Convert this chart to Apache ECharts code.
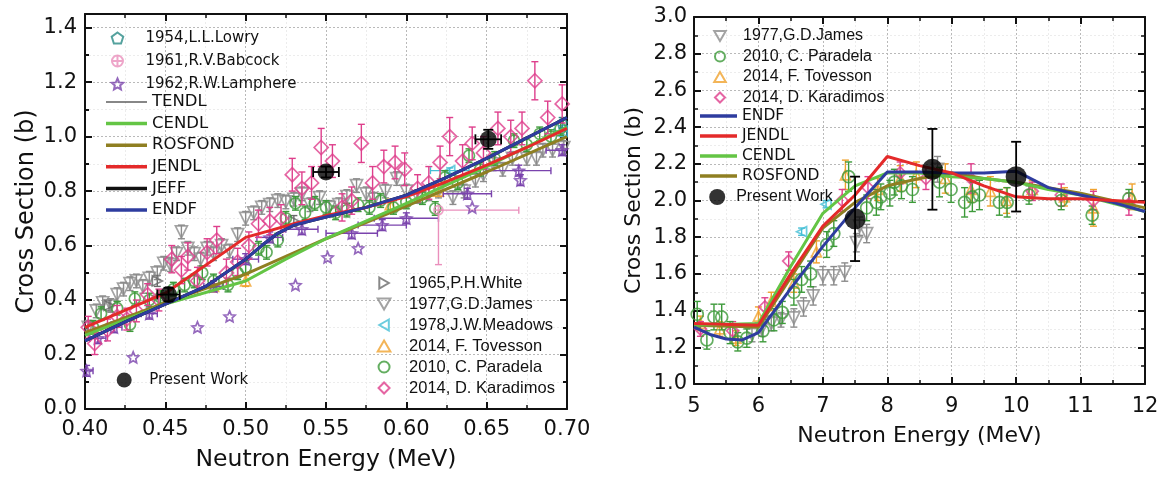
<!DOCTYPE html>
<html><head><meta charset="utf-8">
<script src="https://cdn.jsdelivr.net/npm/echarts@6/dist/echarts.min.js"></script>
<style>html,body{margin:0;padding:0;background:#fff}#c{width:1163px;height:477px}</style>
</head><body><div id="c"></div>
<script>
// ---------------- LEFT PANEL DATA (0.40-0.70 MeV) ----------------
const leftXTicks = [0.40, 0.70, 0.05];
const leftYTicks = [0, 1.45, 0.2];
// evaluations [E, sigma]
const leftTENDL = [[0.40,0.28],[0.45,0.39],[0.50,0.495],[0.55,0.625],[0.60,0.745],[0.65,0.87],[0.70,1.00]];
const leftCENDL = [[0.40,0.27],[0.45,0.385],[0.50,0.47],[0.525,0.55],[0.55,0.625],[0.60,0.755],[0.65,0.89],[0.70,1.035]];
const leftROSFOND = [[0.40,0.28],[0.45,0.39],[0.50,0.495],[0.55,0.625],[0.60,0.745],[0.65,0.87],[0.70,1.00]];
const leftJENDL = [[0.40,0.30],[0.45,0.425],[0.50,0.63],[0.515,0.655],[0.53,0.68],[0.55,0.71],[0.575,0.74],[0.60,0.78],[0.625,0.835],[0.65,0.895],[0.675,0.96],[0.70,1.03]];
const leftJEFF = [[0.40,0.25],[0.425,0.32],[0.45,0.385],[0.475,0.45],[0.50,0.55],[0.51,0.60],[0.52,0.645],[0.53,0.675],[0.55,0.705],[0.575,0.74],[0.60,0.785],[0.625,0.85],[0.65,0.92],[0.675,0.995],[0.70,1.07]];
const leftENDF = [[0.40,0.25],[0.425,0.32],[0.45,0.385],[0.475,0.45],[0.50,0.55],[0.51,0.60],[0.52,0.645],[0.53,0.675],[0.55,0.705],[0.575,0.74],[0.60,0.785],[0.625,0.85],[0.65,0.92],[0.675,0.995],[0.70,1.07]];
// experiments [E, sigma, dSigma]
const leftLowry = [[0.697,1.05,0.02]];
const leftBabcock = [[0.62,0.73,0.20,0.0,0.0,0.05]]; // [E, s, sLow, sHigh, eLow, eHigh]
const leftLamphere = [[0.401,0.14,0.02,0.004],[0.43,0.19,0,0],[0.47,0.30,0,0],[0.49,0.34,0,0],[0.531,0.455,0,0],[0.551,0.557,0,0],[0.57,0.59,0,0],
  [0.408,0.26,0.02,0.005],[0.418,0.30,0.02,0.005],[0.44,0.35,0.02,0.005],[0.48,0.45,0.02,0.006],[0.50,0.55,0.02,0.008],[0.515,0.63,0.02,0.008],
  [0.535,0.66,0.02,0.01],[0.566,0.645,0.02,0.016],[0.585,0.675,0.02,0.015],[0.60,0.70,0.02,0.02],[0.641,0.74,0,0],[0.638,0.79,0.02,0.015],
  [0.671,0.84,0.02,0],[0.67,0.875,0.02,0.02],[0.697,0.95,0.02,0.01]];
const leftWhite = [[0.415,0.38,0.02],[0.445,0.47,0.02],[0.53,0.69,0.02]];
const leftJames = [[0.402,0.30],[0.407,0.36],[0.411,0.39],[0.416,0.38],[0.42,0.42],[0.424,0.44],[0.428,0.46],[0.432,0.47],[0.436,0.45],[0.44,0.48],
  [0.445,0.50],[0.449,0.535],[0.453,0.53],[0.457,0.57],[0.46,0.65],[0.464,0.59],[0.468,0.57],[0.472,0.55],[0.476,0.59],[0.48,0.57],[0.485,0.60],
  [0.49,0.58],[0.495,0.64],[0.50,0.70],[0.505,0.72],[0.51,0.74],[0.515,0.75],[0.52,0.765],[0.525,0.76],[0.53,0.77],[0.535,0.79],[0.54,0.75],
  [0.546,0.776],[0.552,0.74],[0.558,0.75],[0.563,0.78],[0.569,0.82],[0.575,0.79],[0.58,0.77],[0.587,0.80],[0.594,0.846],[0.60,0.80],[0.607,0.78],
  [0.614,0.79],[0.62,0.80],[0.629,0.776],[0.636,0.80],[0.643,0.84],[0.648,0.86],[0.654,0.90],[0.66,0.88],[0.666,0.92],[0.675,0.92],[0.681,0.92],
  [0.685,0.95],[0.691,0.95],[0.698,0.96]];
const leftMeadows = [[0.627,0.875,0.01,0.012],[0.697,1.02,0.02,0.005]];
const leftTovesson = [[0.48,0.45,0.02],[0.50,0.47,0.02],[0.59,0.75,0.02],[0.62,0.80,0.02]];
const leftParadela = [[0.405,0.30],[0.41,0.35],[0.42,0.37],[0.428,0.31],[0.431,0.405],[0.44,0.40],[0.447,0.41],[0.455,0.44],[0.462,0.455],[0.468,0.47],
  [0.473,0.50],[0.48,0.47],[0.489,0.455],[0.495,0.50],[0.50,0.52],[0.508,0.59],[0.513,0.575],[0.52,0.62],[0.525,0.70],[0.531,0.755],[0.537,0.72],
  [0.543,0.755],[0.55,0.74],[0.556,0.72],[0.563,0.73],[0.57,0.75],[0.577,0.74],[0.584,0.765],[0.592,0.74],[0.60,0.76],[0.61,0.776],[0.618,0.736],
  [0.624,0.85],[0.632,0.83],[0.639,0.93],[0.646,0.88],[0.655,0.92],[0.667,0.985],[0.675,0.97],[0.683,1.01],[0.69,1.00],[0.696,1.03]];
const leftKaradimos = [[0.402,0.30,0.04],[0.406,0.24,0.04],[0.414,0.29,0.04],[0.420,0.34,0.04],[0.426,0.33,0.04],[0.432,0.36,0.04],[0.439,0.42,0.04],
  [0.446,0.40,0.04],[0.454,0.55,0.05],[0.460,0.51,0.05],[0.464,0.56,0.05],[0.470,0.47,0.05],[0.476,0.575,0.05],[0.482,0.62,0.05],[0.488,0.50,0.05],
  [0.495,0.54,0.05],[0.502,0.60,0.05],[0.508,0.68,0.05],[0.515,0.69,0.05],[0.522,0.70,0.05],[0.529,0.86,0.06],[0.535,0.81,0.06],[0.541,0.83,0.06],
  [0.547,0.96,0.07],[0.554,0.91,0.06],[0.560,0.74,0.05],[0.566,0.765,0.05],[0.572,0.975,0.07],[0.579,0.83,0.06],[0.586,0.89,0.06],[0.593,0.905,0.06],
  [0.599,0.88,0.06],[0.607,0.81,0.05],[0.614,0.83,0.06],[0.621,0.905,0.06],[0.627,1.00,0.07],[0.635,0.91,0.06],[0.641,0.975,0.06],[0.648,0.94,0.06],
  [0.657,1.03,0.06],[0.665,1.00,0.06],[0.672,1.03,0.06],[0.680,1.205,0.07],[0.688,1.07,0.06],[0.697,1.12,0.07]];
const leftPresent = [[0.452,0.42,0.025,0.007],[0.550,0.87,0.02,0.008],[0.651,0.99,0.035,0.008]]; // [E, s, dS, dE]

// ---------------- RIGHT PANEL DATA (5-12 MeV) ----------------
const rightXTicks = [5, 12, 1];
const rightYTicks = [1, 3, 0.2];
const rightENDF = [[5,1.31],[5.25,1.27],[5.5,1.245],[5.75,1.24],[6,1.28],[6.5,1.52],[7,1.75],[7.5,1.96],[8,2.155],[8.5,2.155],[9,2.15],[9.5,2.15],[10,2.16],[10.5,2.07],[11,2.03],[11.5,1.99],[12,1.94]];
const rightJENDL = [[5,1.33],[6,1.32],[6.5,1.60],[7,1.86],[7.5,2.03],[8,2.24],[8.5,2.19],[9,2.15],[9.5,2.08],[10,2.02],[10.5,2.01],[11,2.01],[11.5,2.00],[12,1.99]];
const rightCENDL = [[5,1.32],[6,1.33],[6.5,1.64],[7,1.93],[7.5,2.08],[8,2.15],[8.5,2.15],[9,2.13],[9.5,2.12],[10,2.10],[10.5,2.06],[11,2.03],[12,1.94]];
const rightROSFOND = [[5,1.32],[6,1.31],[6.5,1.58],[7,1.85],[7.5,1.99],[8,2.08],[8.5,2.12],[9,2.15],[9.5,2.12],[10,2.10],[10.5,2.07],[11,2.04],[12,1.96]];
const rightJames = [[5.9,1.27,0.04],[6.05,1.30,0.04],[6.2,1.33,0.04],[6.35,1.35,0.04],[6.55,1.36,0.05],[6.7,1.42,0.05],[6.85,1.48,0.05],[7.0,1.59,0.05],
  [7.17,1.59,0.05],[7.34,1.61,0.05],[7.52,1.77,0.05],[7.57,1.86,0.05],[7.68,1.82,0.05],[8.78,2.17,0.07]];
const rightParadela = [[5.05,1.38,0.07],[5.2,1.24,0.05],[5.31,1.365,0.07],[5.43,1.365,0.07],[5.56,1.28,0.06],[5.68,1.23,0.05],[5.82,1.25,0.05],
  [6.07,1.29,0.06],[6.24,1.35,0.06],[6.37,1.39,0.06],[6.55,1.50,0.07],[6.67,1.57,0.07],[6.81,1.60,0.07],[7.06,1.76,0.07],[7.17,1.82,0.07],
  [7.40,2.13,0.08],[7.68,1.96,0.07],[7.83,1.99,0.07],[7.90,2.02,0.07],[8.04,2.04,0.07],[8.11,2.10,0.07],[8.22,2.08,0.07],[8.39,2.06,0.07],
  [8.81,2.10,0.08],[8.99,2.06,0.07],[9.2,1.99,0.08],[9.32,2.02,0.08],[9.43,2.03,0.08],[9.74,1.99,0.07],[9.86,1.99,0.08],[10.2,2.03,0.05],
  [10.7,2.00,0.05],[11.18,1.92,0.05],[11.75,2.01,0.05]];
const rightTovesson = [[5.1,1.33,0.04],[5.4,1.30,0.04],[5.65,1.25,0.04],[6.0,1.37,0.05],[6.2,1.45,0.05],[6.55,1.55,0.05],[6.9,1.72,0.06],[7.35,2.14,0.08],
  [7.85,2.06,0.06],[8.2,2.12,0.07],[8.45,2.14,0.07],[8.9,2.12,0.08],[9.3,2.06,0.07],[9.6,2.05,0.08],[9.85,2.0,0.07],[10.25,2.06,0.05],
  [10.75,2.02,0.05],[11.2,1.96,0.1],[11.8,2.02,0.07]];
const rightKaradimos = [[5.1,1.30,0.04],[5.6,1.29,0.05],[6.1,1.42,0.05],[6.47,1.67,0.05],[7.3,2.0,0.06],[7.7,2.07,0.06],[8.2,2.15,0.06],[8.6,2.12,0.06],
  [9.3,2.12,0.08],[10.25,2.05,0.05],[10.7,2.03,0.06],[11.2,2.00,0.05],[11.75,1.98,0.06]];
const rightMeadows = [[6.67,1.83,0.02],[7.05,1.98,0.02]];
const rightPresent = [[7.5,1.90,0.23,0],[8.7,2.17,0.22,0],[10.0,2.13,0.19,0]];

// ---------------- legend names ----------------
const legLeftTop = ['1954,L.L.Lowry','1961,R.V.Babcock','1962,R.W.Lamphere'];
const legLeftLines = ['TENDL','CENDL','ROSFOND','JENDL','JEFF','ENDF'];
const legLeftBottom = ['1965,P.H.White','1977,G.D.James','1978,J.W.Meadows','2014, F. Tovesson','2010, C. Paradela','2014, D. Karadimos'];
const legRightTop = ['1977,G.D.James','2010, C. Paradela','2014, F. Tovesson','2014, D. Karadimos'];
const legRightLines = ['ENDF','JENDL','CENDL','ROSFOND'];
const PW = 'Present Work';

// ---------------- styles ----------------
const C = {
  white:'#6a6a6a', james:'#8c8c8c', meadows:'#46bfd6', tovesson:'#f0a22e', paradela:'#3d9a3a', karadimos:'#de3f8c',
  lamphere:'#7a43ad', babcock:'#ea8fbc', lowry:'#2b8b86',
  ENDF:'#2e3c9f', JENDL:'#e42a2a', CENDL:'#64c545', ROSFOND:'#8f7f22', JEFF:'#111', TENDL:'#111'
};
const SYM = {
  star:'path://M10,0 L12.9,6.9 L20,7.6 L14.7,12.3 L16.2,19.5 L10,15.8 L3.8,19.5 L5.3,12.3 L0,7.6 L7.1,6.9 Z',
  pent:'path://M10,0 L19.5,6.9 L15.9,18.1 L4.1,18.1 L0.5,6.9 Z',
  cplus:'path://M0,10 A10,10 0 1,1 20,10 A10,10 0 1,1 0,10 Z M10,0 L10,20 M0,10 L20,10'
};
// legend icons (keep aspect)
const ICON = {
  '1977,G.D.James':'path://M0,0 L20,0 L10,17.3 Z',
  '1965,P.H.White':'path://M0,0 L17.3,10 L0,20 Z',
  '1978,J.W.Meadows':'path://M17.3,0 L0,10 L17.3,20 Z',
  '2014, F. Tovesson':'path://M10,0 L20,17.3 L0,17.3 Z',
  '2014, D. Karadimos':'path://M10,0 L20,10 L10,20 L0,10 Z',
  'TENDL':'path://M0,0 L40,0 L40,1 L0,1 Z'
};

function norm3(d){ return d.map(r => [r[0], r[1], r[2]||0, r[2]||0, 0, 0]); }
function norm4(d){ return d.map(r => [r[0], r[1], r[2]||0, r[2]||0, r[3]||0, r[3]||0]); }

function eb(rows, color, xi, yi, lw, cap, z){
  return {
    type:'custom', name:'_eb', xAxisIndex:xi, yAxisIndex:yi, clip:true, silent:true, z:z||2,
    dimensions:['x','y','a','b','c','d'], encode:{x:0,y:1},
    data: rows,
    renderItem: function(params, api){
      const x=api.value(0), y=api.value(1), ylo=api.value(2), yhi=api.value(3), xlo=api.value(4), xhi=api.value(5);
      const c=api.coord([x,y]); const ch=[]; const st={stroke:color, lineWidth:lw};
      if (ylo>0 || yhi>0){
        const p1=api.coord([x,y-ylo]), p2=api.coord([x,y+yhi]);
        ch.push({type:'line', shape:{x1:c[0],y1:p1[1],x2:c[0],y2:p2[1]}, style:st});
        if (ylo>0) ch.push({type:'line', shape:{x1:c[0]-cap,y1:p1[1],x2:c[0]+cap,y2:p1[1]}, style:st});
        if (yhi>0) ch.push({type:'line', shape:{x1:c[0]-cap,y1:p2[1],x2:c[0]+cap,y2:p2[1]}, style:st});
      }
      if (xlo>0 || xhi>0){
        const q1=api.coord([x-xlo,y]), q2=api.coord([x+xhi,y]);
        ch.push({type:'line', shape:{x1:q1[0],y1:c[1],x2:q2[0],y2:c[1]}, style:st});
        if (xlo>0) ch.push({type:'line', shape:{x1:q1[0],y1:c[1]-cap,x2:q1[0],y2:c[1]+cap}, style:st});
        if (xhi>0) ch.push({type:'line', shape:{x1:q2[0],y1:c[1]-cap,x2:q2[0],y2:c[1]+cap}, style:st});
      }
      return {type:'group', children:ch};
    }
  };
}
function sc(name, rows, sym, size, color, xi, yi, rot, z, filled){
  return {
    type:'scatter', name:name, xAxisIndex:xi, yAxisIndex:yi, data: rows.map(r=>[r[0],r[1]]),
    symbol:sym, symbolSize:size, symbolRotate:rot||0, z:z||3, clip:true,
    itemStyle: filled ? {color:color} : {color:'rgba(255,255,255,0)', borderColor:color, borderWidth:1.7},
    emphasis:{disabled:true}
  };
}
function ln(name, data, color, w, xi, yi, z){
  return {type:'line', name:name, data:data, xAxisIndex:xi, yAxisIndex:yi, symbol:'none', showSymbol:false,
    lineStyle:{color:color, width:w}, itemStyle:{color:color}, z:z, clip:true, emphasis:{disabled:true}};
}

// ---------------- axes ----------------
const AX_FONT = 'DejaVu Sans';
function axisBase(o){
  const a = {
    type:'value', gridIndex:o.grid, position:o.pos, min:o.t[0], max:o.t[1], interval:o.t[2],
    axisLine:{show:o.line!==false, onZero:false, lineStyle:{color:'#111', width:2}},
    axisTick:{show:true, inside:true, length:o.tickLen||7, lineStyle:{color:'#111', width:2}},
    minorTick:{show:!!o.minor, splitNumber:2, length:4, lineStyle:{color:'#111', width:1.5}},
    splitLine:{show:!!o.split, lineStyle:{color:'#b9b9b9', type:[2,2], width:1}},
    minorSplitLine:{show:!!o.minorSplit, lineStyle:{color:'#ececec', type:[2,2], width:1}},
    axisLabel:{show:!!o.label, color:'#111', fontFamily:AX_FONT, fontSize:21, margin:o.margin||8,
      formatter:o.fmt, showMaxLabel:o.showMax!==false},
    silent:true
  };
  if (o.name){
    a.name=o.name; a.nameLocation='middle'; a.nameGap=o.nameGap;
    a.nameTextStyle={color:'#111', fontFamily:AX_FONT, fontSize:o.nameSize};
  }
  return a;
}

const xAxes = [
  axisBase({grid:0,pos:'bottom',t:leftXTicks,minor:true,split:true,minorSplit:true,label:true,margin:10,fmt:v=>v.toFixed(2),
    name:'Neutron Energy (MeV)',nameGap:39,nameSize:23.5}),
  axisBase({grid:0,pos:'top',t:leftXTicks,minor:true}),
  axisBase({grid:1,pos:'bottom',t:rightXTicks,minor:true,split:true,minorSplit:true,label:true,margin:12,fmt:v=>String(Math.round(v)),
    name:'Neutron Energy (MeV)',nameGap:41,nameSize:22}),
  axisBase({grid:1,pos:'top',t:rightXTicks,minor:true})
];
const yAxes = [
  axisBase({grid:0,pos:'left',t:leftYTicks,split:true,label:true,margin:8,fmt:v=>v.toFixed(1),showMax:false,
    name:'Cross Section (b)',nameGap:46,nameSize:24}),
  axisBase({grid:0,pos:'left',t:[0,1.45,0.1],line:false,tickLen:4}),
  axisBase({grid:0,pos:'right',t:leftYTicks}),
  axisBase({grid:0,pos:'right',t:[0,1.45,0.1],line:false,tickLen:4}),
  axisBase({grid:1,pos:'left',t:rightYTicks,minor:true,split:true,minorSplit:true,label:true,margin:7,fmt:v=>v.toFixed(1),
    name:'Cross Section (b)',nameGap:49,nameSize:22}),
  axisBase({grid:1,pos:'right',t:rightYTicks,minor:true})
];
yAxes[1].splitLine = {show:true, lineStyle:{color:'#ececec', type:[2,2], width:1}};
yAxes[1].z = -1;

// ---------------- series ----------------
const L = [0,0], R = [2,4];
const series = [];
function addExp(panel, name, rows4, sym, size, color, rot, z){
  series.push(eb(rows4, color, panel[0], panel[1], 1.4, 3.5, z));
  series.push(sc(name, rows4, sym, size, color, panel[0], panel[1], rot, z));
}
// left experiments
addExp(L, '1977,G.D.James', norm3(leftJames.map(r=>[r[0],r[1],0.025])), 'triangle', 12, C.james, 180, 2);
addExp(L, '1965,P.H.White', norm3(leftWhite), 'triangle', 10, C.white, -90, 2);
addExp(L, '1978,J.W.Meadows', norm4(leftMeadows), 'triangle', 10, C.meadows, 90, 2);
addExp(L, '2014, F. Tovesson', norm3(leftTovesson), 'triangle', 10, C.tovesson, 0, 2);
addExp(L, '2010, C. Paradela', norm3(leftParadela.map(r=>[r[0],r[1],0.025])), 'circle', 11, C.paradela, 0, 3);
addExp(L, '1962,R.W.Lamphere', norm4(leftLamphere), SYM.star, 11, C.lamphere, 0, 3);
addExp(L, '1961,R.V.Babcock', leftBabcock, SYM.cplus, 9, C.babcock, 0, 3);
addExp(L, '1954,L.L.Lowry', norm3(leftLowry), SYM.pent, 10, C.lowry, 0, 3);
addExp(L, '2014, D. Karadimos', norm3(leftKaradimos), 'diamond', 14, C.karadimos, 0, 4);
// left evaluations
series.push(ln('TENDL', leftTENDL, C.TENDL, 1, 0, 0, 5));
series.push(ln('ROSFOND', leftROSFOND, C.ROSFOND, 3, 0, 0, 5));
series.push(ln('CENDL', leftCENDL, C.CENDL, 3, 0, 0, 5));
series.push(ln('JEFF', leftJEFF, C.JEFF, 3, 0, 0, 5));
series.push(ln('JENDL', leftJENDL, C.JENDL, 3, 0, 0, 5));
series.push(ln('ENDF', leftENDF, C.ENDF, 3, 0, 0, 5));
// left present work
series.push(eb(norm4(leftPresent), '#000', 0, 0, 1.8, 5, 6));
series.push(sc(PW, leftPresent, 'circle', 17, '#000', 0, 0, 0, 7, true));

// right experiments
addExp(R, '1977,G.D.James', norm3(rightJames), 'triangle', 12, C.james, 180, 2);
addExp(R, '1978,J.W.Meadows', norm3(rightMeadows), 'triangle', 10, C.meadows, 90, 2);
addExp(R, '2014, F. Tovesson', norm3(rightTovesson), 'triangle', 10, C.tovesson, 0, 2);
addExp(R, '2014, D. Karadimos', norm3(rightKaradimos), 'diamond', 12, C.karadimos, 0, 3);
addExp(R, '2010, C. Paradela', norm3(rightParadela), 'circle', 12, C.paradela, 0, 3);
// right evaluations
series.push(ln('ROSFOND', rightROSFOND, C.ROSFOND, 3, 2, 4, 5));
series.push(ln('CENDL', rightCENDL, C.CENDL, 3, 2, 4, 5));
series.push(ln('ENDF', rightENDF, C.ENDF, 3, 2, 4, 5));
series.push(ln('JENDL', rightJENDL, C.JENDL, 3, 2, 4, 5));
// right present work
series.push(eb(norm4(rightPresent), '#000', 2, 4, 1.8, 5, 6));
series.push(sc(PW, rightPresent, 'circle', 21, '#000', 2, 4, 0, 7, true));

// ---------------- legends ----------------
function legData(names, defIcon){
  return names.map(n => {
    const ic = ICON[n] || defIcon;
    return ic ? {name:n, icon:ic} : {name:n};
  });
}
// o.cx = icon centre x (legend box starts at the icon's left edge for narrow icons)
function leg(o){
  const left = o.cx != null ? (o.cx - o.h/2 - 0.8) : o.left;
  return {
    show:true, orient:'vertical', left:left, top:o.top, padding:0, itemGap:o.gap, itemWidth:o.w, itemHeight:o.h,
    selectedMode:false, data:legData(o.data, o.defIcon), symbolRotate:0, symbolKeepAspect:true,
    textStyle:{color:'#111', fontFamily:o.font, fontSize:o.size, lineHeight:20},
    inactiveColor:'#111'
  };
}
const legends = [
  leg({cx:117, top:28, gap:3, w:46, h:11, data:legLeftTop, font:'DejaVu Sans', size:15}),
  leg({left:106, top:92, gap:1.6, w:41, h:3.5, data:legLeftLines, defIcon:'rect', font:'DejaVu Sans', size:16.5}),
  leg({cx:383, top:273, gap:1, w:40, h:11, data:legLeftBottom, font:'Liberation Sans', size:16.5}),
  leg({cx:125, top:370, gap:0, w:40, h:15, data:[PW], font:'DejaVu Sans', size:15}),
  leg({cx:719, top:26, gap:0.5, w:36, h:10, data:legRightTop, font:'Liberation Sans', size:16}),
  leg({left:700, top:106, gap:0, w:37, h:3.5, data:legRightLines, defIcon:'rect', font:'DejaVu Sans', size:15.5}),
  leg({cx:718, top:187, gap:0, w:28, h:16, data:[PW], font:'Liberation Sans', size:16})
];

const chart = echarts.init(document.getElementById('c'), null, {renderer:'canvas'});
chart.setOption({
  animation:false,
  backgroundColor:'#fff',
  grid:[
    {left:85, top:14, width:482, height:395, containLabel:false},
    {left:694, top:17, width:451, height:367, containLabel:false}
  ],
  xAxis:xAxes, yAxis:yAxes, legend:legends, series:series
});
</script></body></html>
